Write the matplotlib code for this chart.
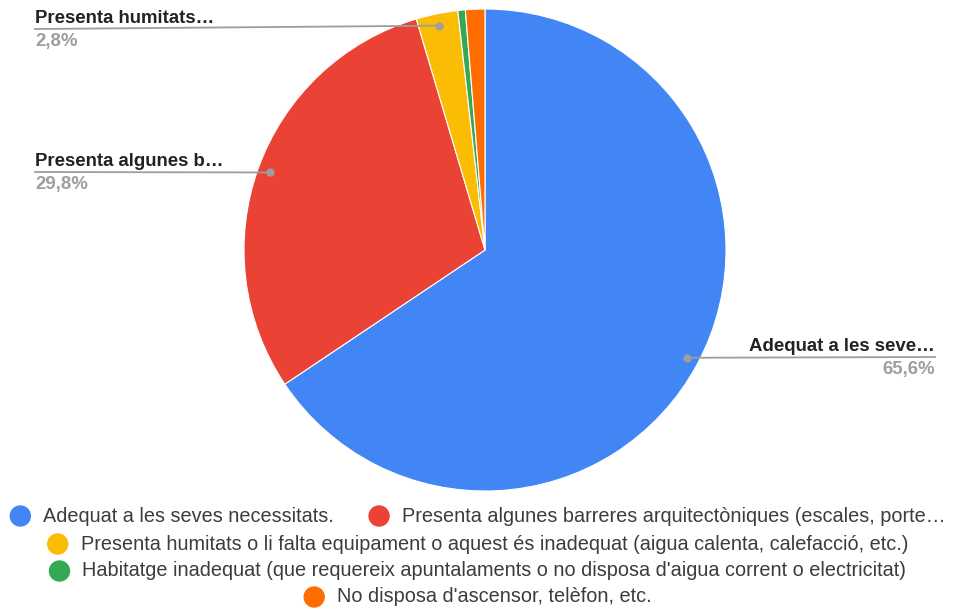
import matplotlib
matplotlib.use("Agg")
import matplotlib.pyplot as plt
from matplotlib.patches import Ellipse
import numpy as np

plt.rcParams['font.family'] = ['Liberation Sans', 'DejaVu Sans']

# data
labels = ["Adequat a les seves necessitats.",
          "Presenta algunes barreres arquitectòniques (escales, porte…",
          "Presenta humitats o li falta equipament o aquest és inadequat (aigua calenta, calefacció, etc.)",
          "Habitatge inadequat (que requereix apuntalaments o no disposa d'aigua corrent o electricitat)",
          "No disposa d'ascensor, telèfon, etc."]
short_labels = ["Adequat a les seve…", "Presenta algunes b…", "Presenta humitats…", None, None]
values = [65.6, 29.8, 2.8, 0.5, 1.3]
pct_text = ["65,6%", "29,8%", "2,8%", None, None]
colors = ["#4285F4", "#EA4335", "#FBBC04", "#34A853", "#FF6D01"]
legend_rows = [[0, 1], [2], [3], [4]]

W, H = 956, 610
fig = plt.figure(figsize=(W / 100, H / 100), dpi=100)

# pie: centre (485,250) px from top, radius 241 px
cx, cy, R = 485, 250, 241
ax = fig.add_axes([(cx - R) / W, (H - cy - R) / H, 2 * R / W, 2 * R / H])
wedges, _ = ax.pie(values, colors=colors, startangle=90, counterclock=False,
                   radius=1, wedgeprops=dict(edgecolor='white', linewidth=0.8))
ax.set_xlim(-1, 1)
ax.set_ylim(-1, 1)
ax.set_aspect('equal')
ax.axis('off')


def px(x, y):
    # pixel from top-left -> pie data coords
    return (x - cx) / R, (cy - y) / R


# callout labels: (text x px, line y px, side)
callouts = {0: (935, 357, 'right'), 1: (35, 172, 'left'), 2: (35, 29, 'left')}
for i, (tx, ly, side) in callouts.items():
    w = wedges[i]
    mid = np.deg2rad((w.theta1 + w.theta2) / 2)
    dx, dy = 0.95 * np.cos(mid), 0.95 * np.sin(mid)
    ex, ey = px(tx, ly)
    ax.plot([dx, ex], [dy, ey], color='#9e9e9e', lw=1.3, clip_on=False, zorder=3)
    ax.plot(dx, dy, 'o', color='#9e9e9e', ms=5, clip_on=False, zorder=4)
    fig.text(tx / W, (H - ly + 2) / H, short_labels[i], ha=side, va='bottom',
             fontsize=13.4, fontweight='bold', color='#222222')
    fig.text(tx / W, (H - ly - 4) / H, pct_text[i], ha=side, va='top',
             fontsize=13.4, fontweight='bold', color='#9e9e9e')

# legend, each row centred
fig.canvas.draw()
renderer = fig.canvas.get_renderer()
row_y = [516, 544, 571, 597]
mark_r = 10
gap = 13
spacing = 35
for row, yy in zip(legend_rows, row_y):
    texts = []
    widths = []
    for i in row:
        t = fig.text(0, (H - yy) / H, labels[i], fontsize=14.3, color='#3c3c3c', va='center')
        texts.append(t)
        widths.append(t.get_window_extent(renderer).width)
    total = sum(2 * mark_r + gap + w for w in widths) + spacing * (len(row) - 1)
    x = (W - total) / 2
    for i, t, w in zip(row, texts, widths):
        fig.add_artist(Ellipse(((x + mark_r) / W, (H - yy) / H), 2 * mark_r / W, 2 * mark_r / H,
                               transform=fig.transFigure, color=colors[i]))
        x += 2 * mark_r + gap
        t.set_x(x / W)
        x += w + spacing

fig.savefig("out.png", dpi=100)
